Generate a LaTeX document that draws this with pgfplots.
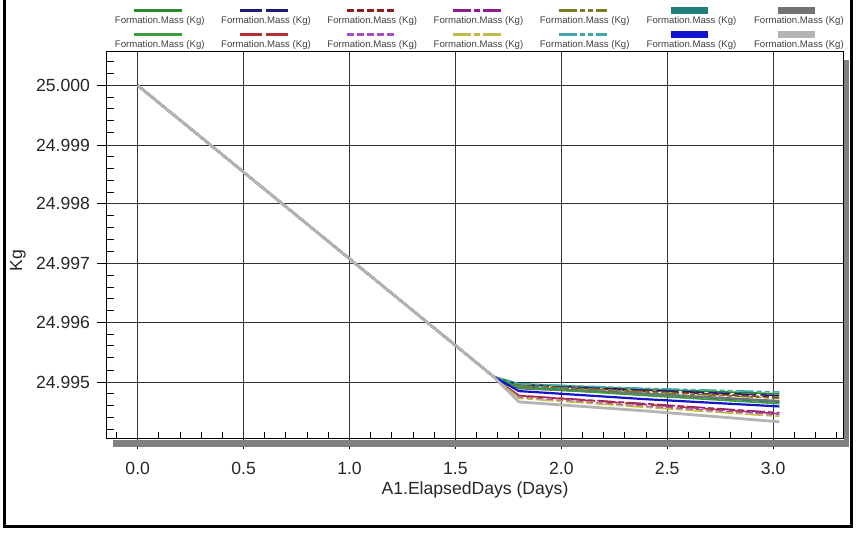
\documentclass[border=0pt]{standalone}
\usepackage{fontspec}
\setmainfont{Liberation Sans}
\usepackage{pgfplots}
\usepackage{pgfplotstable}
\pgfplotsset{compat=1.18}

\definecolor{cGreen}{HTML}{2A8A2A}
\definecolor{cNavy}{HTML}{1C1C7C}
\definecolor{cDRed}{HTML}{8A1E1E}
\definecolor{cPurple}{HTML}{8C1C8C}
\definecolor{cOlive}{HTML}{7C7C22}
\definecolor{cTeal}{HTML}{1E7E78}
\definecolor{cDGray}{HTML}{727272}
\definecolor{cGreenB}{HTML}{3C9C3C}
\definecolor{cRed}{HTML}{B03434}
\definecolor{cViolet}{HTML}{A64CC4}
\definecolor{cYellow}{HTML}{C2BA42}
\definecolor{cCyan}{HTML}{42A8A8}
\definecolor{cBlue}{HTML}{1414CC}
\definecolor{cLGray}{HTML}{B4B4B4}

% Formation mass (kg) for the 14 runs
\pgfplotstableread{
x    m1       m2       m3       m4       m5       m6       m7       m8       m9       m10      m11      m12      m13      m14
0    25.00000 25.00000 25.00000 25.00000 25.00000 25.00000 25.00000 25.00000 25.00000 25.00000 25.00000 25.00000 25.00000 25.00000
1.68 24.99508 24.99508 24.99508 24.99508 24.99508 24.99508 24.99508 24.99508 24.99508 24.99508 24.99508 24.99508 24.99508 24.99508
1.74 24.99502 24.99501 24.99500 24.99492 24.99500 24.99499 24.99498 24.99499 24.99492 24.99491 24.99490 24.99502 24.99496 24.99487
1.80 24.99497 24.99495 24.99494 24.99477 24.99493 24.99491 24.99489 24.99490 24.99476 24.99474 24.99472 24.99496 24.99484 24.99466
2.40 24.99488 24.99486 24.99484 24.99463 24.99483 24.99479 24.99479 24.99477 24.99461 24.99459 24.99457 24.99489 24.99471 24.99450
3.03 24.99479 24.99476 24.99474 24.99448 24.99472 24.99466 24.99468 24.99463 24.99446 24.99444 24.99442 24.99482 24.99458 24.99433
}\massdata

\pgfplotsset{
  lineleg/.style={legend image code/.code={\path (0pt,0pt);
      \draw[##1,overlay,line width=1.3pt] (10pt,5.5pt) -- (34pt,5.5pt);}},
  boxleg/.style={legend image code/.code={\path (0pt,0pt);
      \filldraw[##1,overlay,solid,line width=0.4pt] (13pt,4.2pt) rectangle (31pt,7pt);}},
}

\begin{document}
\begin{tikzpicture}
\path[use as bounding box] (-53.5pt,-47.5pt) rectangle (374.5pt,219.5pt);
\begin{axis}[
  at={(0pt,0pt)}, anchor=south west,
  scale only axis,
  width=368pt, height=193.5pt,
  xmin=-0.145, xmax=3.33,
  ymin=24.99404, ymax=25.00056,
  % keep the tiny mass differences precise: map kg to grams above 24.99 kg
  y coord trafo/.code={\begingroup\pgfkeys{/pgf/fpu=false}%
    \pgfmathparse{(#1-24.99)*1000}\global\let\kgres\pgfmathresult\endgroup
    \let\pgfmathresult\kgres},
  xtick={0,0.5,1,1.5,2,2.5,3},
  ytick={24.995,24.996,24.997,24.998,24.999,25.000},
  yticklabels={24.995,24.996,24.997,24.998,24.999,25.000},
  minor xtick={-0.1,0.1,0.2,0.3,0.4,0.6,0.7,0.8,0.9,1.1,1.2,1.3,1.4,1.6,1.7,1.8,1.9,
    2.1,2.2,2.3,2.4,2.6,2.7,2.8,2.9,3.1,3.2,3.3},
  minor ytick={24.9942,24.9944,24.9946,24.9948,24.9952,24.9954,24.9956,24.9958,
    24.9962,24.9964,24.9966,24.9968,24.9972,24.9974,24.9976,24.9978,
    24.9982,24.9984,24.9986,24.9988,24.9992,24.9994,24.9996,24.9998,25.0002,25.0004},
  tick pos=left,
  tick align=outside,
  major tick length=5pt, minor tick length=3.5pt,
  minor x tick style={yshift=3.5pt},
  minor y tick style={xshift=3.5pt},
  tick style={black, line width=0.5pt},
  grid=major,
  major grid style={black!80, line width=0.5pt},
  axis line style={black, line width=0.5pt},
  xticklabel style={yshift=-3pt, /pgf/number format/.cd, fixed, precision=1, fixed zerofill, assume math mode=true},
  ticklabel style={font=\fontsize{8.8}{10}\selectfont, text=black!85},
  xlabel={A1.ElapsedDays (Days)},
  ylabel={Kg},
  label style={font=\fontsize{8.8}{10}\selectfont, text=black!85},
  xlabel style={at={(axis description cs:0.5,-0.132)}, anchor=center},
  ylabel style={at={(axis description cs:-0.121,0.46)}, anchor=center},
  legend columns=7,
  legend style={at={(0,1)}, anchor=south west, xshift=3pt, yshift=0.5pt,
    draw=none, fill=none, inner sep=0pt,
    font=\fontsize{4.8}{5.5}\selectfont, text=black!75,
    nodes={inner sep=0pt},
    row sep=7pt,
    /tikz/every even column/.append style={column sep=7.5pt}},
]
\addplot[lineleg, cGreen, line width=0.8pt] table[x=x,y=m1]{\massdata};
\addlegendentry{Formation.Mass (Kg)}
\addplot[lineleg, cNavy, line width=0.8pt, dash pattern=on 11pt off 2pt] table[x=x,y=m2]{\massdata};
\addlegendentry{Formation.Mass (Kg)}
\addplot[lineleg, cDRed, line width=0.8pt, dash pattern=on 3.5pt off 1.5pt] table[x=x,y=m3]{\massdata};
\addlegendentry{Formation.Mass (Kg)}
\addplot[lineleg, cPurple, line width=0.8pt, dash pattern=on 9pt off 1.5pt on 3pt off 1.5pt] table[x=x,y=m4]{\massdata};
\addlegendentry{Formation.Mass (Kg)}
\addplot[lineleg, cOlive, line width=0.8pt, dash pattern=on 9pt off 1.5pt on 2.5pt off 1.5pt on 2.5pt off 1.5pt] table[x=x,y=m5]{\massdata};
\addlegendentry{Formation.Mass (Kg)}
\addplot[boxleg, cTeal, line width=1.1pt] table[x=x,y=m6]{\massdata};
\addlegendentry{Formation.Mass (Kg)}
\addplot[boxleg, cDGray, line width=1.1pt] table[x=x,y=m7]{\massdata};
\addlegendentry{Formation.Mass (Kg)}
\addplot[lineleg, cGreenB, line width=0.8pt] table[x=x,y=m8]{\massdata};
\addlegendentry{Formation.Mass (Kg)}
\addplot[lineleg, cRed, line width=0.8pt, dash pattern=on 11pt off 2pt] table[x=x,y=m9]{\massdata};
\addlegendentry{Formation.Mass (Kg)}
\addplot[lineleg, cViolet, line width=0.8pt, dash pattern=on 3.5pt off 1.5pt] table[x=x,y=m10]{\massdata};
\addlegendentry{Formation.Mass (Kg)}
\addplot[lineleg, cYellow, line width=0.8pt, dash pattern=on 9pt off 1.5pt on 3pt off 1.5pt] table[x=x,y=m11]{\massdata};
\addlegendentry{Formation.Mass (Kg)}
\addplot[lineleg, cCyan, line width=0.8pt, dash pattern=on 9pt off 1.5pt on 2.5pt off 1.5pt on 2.5pt off 1.5pt] table[x=x,y=m12]{\massdata};
\addlegendentry{Formation.Mass (Kg)}
\addplot[boxleg, cBlue, line width=1.1pt] table[x=x,y=m13]{\massdata};
\addlegendentry{Formation.Mass (Kg)}
\addplot[boxleg, cLGray, line width=1.4pt] table[x=x,y=m14]{\massdata};
\addlegendentry{Formation.Mass (Kg)}
\end{axis}
% 3D shadow of the plot box
\fill[black!50] (3pt,-0.6pt) rectangle (371pt,-4pt);
\fill[black!50] (368.6pt,189.5pt) rectangle (371pt,-4pt);
% outer frame
\draw[line width=1.5pt] (-51pt,230pt) -- (-51pt,-44pt) -- (372pt,-44pt) -- (372pt,230pt);
\end{tikzpicture}
\end{document}
